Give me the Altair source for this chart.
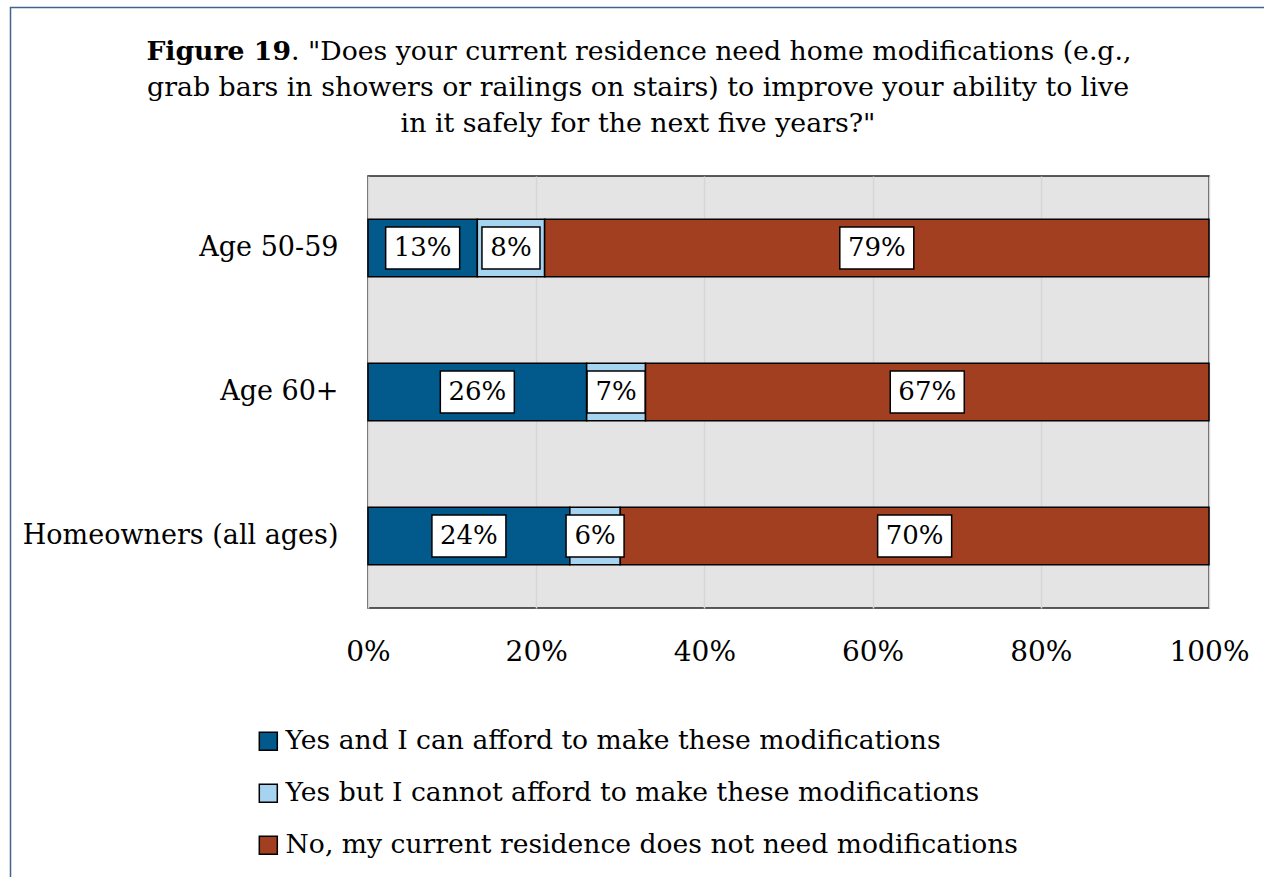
import altair as alt
import pandas as pd

categories = ["Age 50-59", "Age 60+", "Homeowners (all ages)"]
series = [
    "Yes and I can afford to make these modifications",
    "Yes but I cannot afford to make these modifications",
    "No, my current residence does not need modifications",
]
afford = [13, 26, 24]
cannot = [8, 7, 6]
no_need = [79, 67, 70]
colors = ["#02598c", "#a6d3f0", "#a23f20"]
x_ticks = [0, 20, 40, 60, 80, 100]
title_bold = "Figure 19"
title_line1 = '. "Does your current residence need home modifications (e.g.,'
title_line2 = "grab bars in showers or railings on stairs) to improve your ability to live"
title_line3 = 'in it safely for the next five years?"'

rows = []
for i, c in enumerate(categories):
    start = 0
    for k, (s, vals) in enumerate(zip(series, [afford, cannot, no_need])):
        v = vals[i]
        rows.append({"cat": c, "series": s, "value": v, "start": start, "end": start + v, "order": k})
        start += v
df = pd.DataFrame(rows)

FONT = "DejaVu Serif"
W, H = 841, 432
ysort = categories

ysc = alt.Scale(paddingInner=0.6, paddingOuter=0.3)

bars = alt.Chart(df).mark_bar(stroke="black", strokeWidth=1.5).encode(
    y=alt.Y("cat:N", sort=ysort, scale=ysc,
            axis=alt.Axis(title=None, labelFont=FONT, labelFontSize=27, labelColor="black",
                          labelPadding=30, ticks=False, domain=False, labelLimit=600)),
    x=alt.X("start:Q", scale=alt.Scale(domain=[0, 100], nice=False),
            axis=alt.Axis(values=x_ticks, labelExpr="datum.value + '%'", title=None,
                          labelFont=FONT, labelFontSize=28, labelColor="black", labelPadding=30,
                          labelFlush=False, labelOverlap=False, labelBound=False,
                          ticks=False, domain=False, grid=True, gridColor="#d6d6d6", gridWidth=1.5)),
    x2="end:Q",
    color=alt.Color("series:N", scale=alt.Scale(domain=series, range=colors),
                    legend=alt.Legend(orient="none", legendX=-113, legendY=552, title=None,
                                      symbolType="square", symbolSize=324, symbolStrokeColor="black",
                                      symbolStrokeWidth=1.5, symbolOpacity=1,
                                      labelFont=FONT, labelFontSize=26.6, labelColor="black",
                                      rowPadding=25, labelLimit=1000, padding=0, labelOffset=4)),
    order="order:Q",
)

lab = alt.Chart(df).transform_calculate(
    label="datum.value + '%'",
    mid="(datum.start + datum.end) / 2",
    hw="length(datum.value + '%') > 2 ? 4.4 : 3.45",
).transform_calculate(
    bl="datum.mid - datum.hw",
    br="datum.mid + datum.hw",
)

boxes = lab.mark_bar(size=42, fill="white", stroke="black", strokeWidth=1.5).encode(
    y=alt.Y("cat:N", sort=ysort),
    x="bl:Q",
    x2="br:Q",
)
texts = lab.mark_text(font=FONT, fontSize=26, color="black", baseline="middle", align="center").encode(
    y=alt.Y("cat:N", sort=ysort),
    x="mid:Q",
    text="label:N",
)

TX = 270
def tline(txt, x, y, align="center", weight="normal", size=27):
    return alt.Chart(pd.DataFrame({"t": [txt]})).mark_text(
        font=FONT, fontSize=size, fontWeight=weight, align=align, baseline="middle", color="black"
    ).encode(text="t:N", x=alt.value(x), y=alt.value(y))

XS = -77
t1a = tline(title_bold, XS, -124.5, align="right", weight="bold", size=26.7)
t1b = tline(title_line1, XS, -124.5, align="left", size=26.7)
t2 = tline(title_line2, TX, -88.5, size=26.8)
t3 = tline(title_line3, TX, -52.5, size=26.8)

border = alt.Chart(pd.DataFrame({"a": [0]})).mark_rect(
    fill="transparent", stroke="#41648c", strokeWidth=1.5
).encode(x=alt.value(-357.5), x2=alt.value(1264 - 368 + 20), y=alt.value(-168.5), y2=alt.value(877 - 176 + 20))

chart = alt.layer(border, bars, boxes, texts, t1a, t1b, t2, t3).properties(
    width=W, height=H,
    autosize=alt.AutoSizeParams(type="none"),
    padding={"left": 368, "top": 176, "right": 55, "bottom": 269},
    background="white",
).configure_view(fill="#e4e4e4", stroke="#262626", strokeWidth=1.5)

chart.save("out.html", embed_options={"renderer": "svg", "actions": False})
